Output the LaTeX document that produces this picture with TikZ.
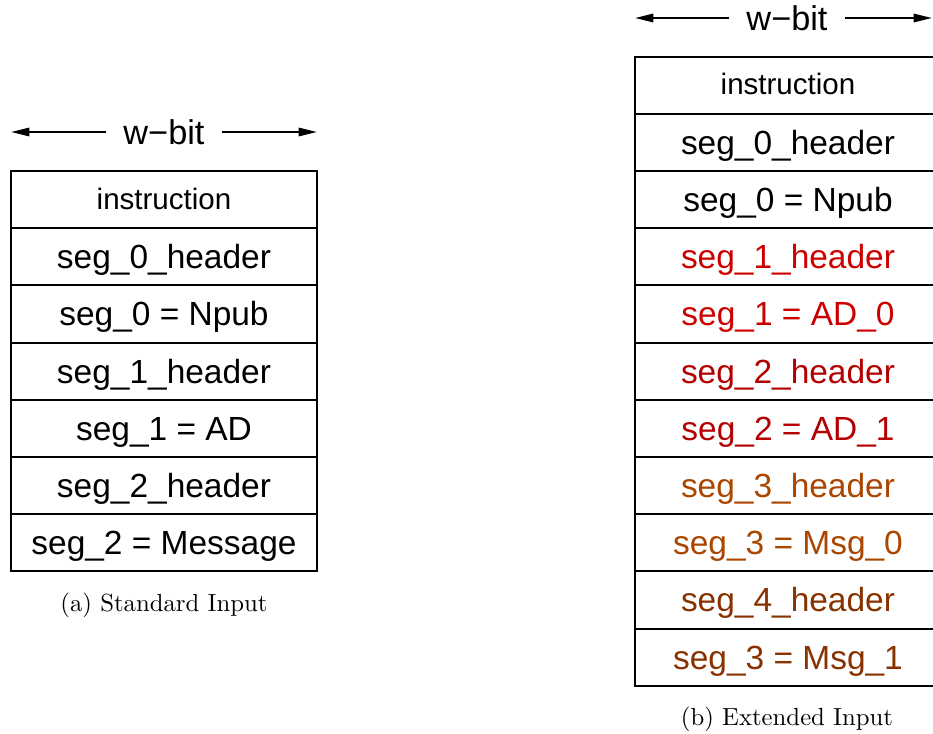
\documentclass[tikz,border=0pt]{standalone}
\usepackage{fontspec}
\newfontfamily\boxfont{Liberation Sans}
\newfontfamily\capfont{lmroman10-regular.otf}
\usepackage{tikz}
\usetikzlibrary{arrows.meta}
\definecolor{segone}{RGB}{205,0,0}
\definecolor{segtwo}{RGB}{180,0,0}
\definecolor{segthree}{RGB}{170,70,0}
\definecolor{segfour}{RGB}{135,50,0}

\begin{document}
\begin{tikzpicture}[x=0.025cm,y=-0.025cm,
	cell/.style={draw, line width=1.4pt, minimum width=7.65cm, minimum height=1.43cm,
		inner sep=0pt, text height=17pt, text depth=0.2pt,
		font=\boxfont\fontsize{23.8}{26}\selectfont},
	small/.style={font=\boxfont\fontsize{21}{24}\selectfont, text height=15pt, text depth=1.4pt},
	width/.style={inner xsep=12pt, font=\boxfont\fontsize{24.4}{28}\selectfont},
	caption/.style={font=\capfont\fontsize{17.6}{21}\selectfont},
	wire/.style={line width=1.3pt, -{Triangle[length=13pt,width=6pt]}}]
	\clip (0,0) rectangle (933,733);
	%%%standard input
	\node[width] at (164,132) (wA){w−bit};
	\coordinate (wAl) at (11,132);
	\coordinate (wAr) at (317,132);
	\draw[wire] (wA.west) -- (wAl);
	\draw[wire] (wA.east) -- (wAr);
	\node[cell, small] at (164,199.6) (a0){instruction};
	\node[cell] at (164,256.8) (a1){seg\_0\_header};
	\node[cell] at (164,314.0) (a2){seg\_0 = Npub};
	\node[cell] at (164,371.2) (a3){seg\_1\_header};
	\node[cell] at (164,428.4) (a4){seg\_1 = AD};
	\node[cell] at (164,485.6) (a5){seg\_2\_header};
	\node[cell] at (164,542.8) (a6){seg\_2 = Message};
	\node[caption] at (164,605) (capA){(a) Standard Input};
	%%%extended input
	\node[width] at (787,18) (wB){w−bit};
	\coordinate (wBl) at (635,18);
	\coordinate (wBr) at (932,18);
	\draw[wire] (wB.west) -- (wBl);
	\draw[wire] (wB.east) -- (wBr);
	\node[cell, small] at (788,85.2) (b0){instruction};
	\node[cell] at (788,142.4) (b1){seg\_0\_header};
	\node[cell] at (788,199.6) (b2){seg\_0 = Npub};
	%associated data
	\node[cell, text=segone] at (788,256.8) (b3){seg\_1\_header};
	\node[cell, text=segone] at (788,314.0) (b4){seg\_1 = AD\_0};
	\node[cell, text=segtwo] at (788,371.2) (b5){seg\_2\_header};
	\node[cell, text=segtwo] at (788,428.4) (b6){seg\_2 = AD\_1};
	%message
	\node[cell, text=segthree] at (788,485.6) (b7){seg\_3\_header};
	\node[cell, text=segthree] at (788,542.8) (b8){seg\_3 = Msg\_0};
	\node[cell, text=segfour] at (788,600.0) (b9){seg\_4\_header};
	\node[cell, text=segfour] at (788,657.2) (b10){seg\_3 = Msg\_1};
	\node[caption] at (787,719) (capB){(b) Extended Input};
\end{tikzpicture}
\end{document}
